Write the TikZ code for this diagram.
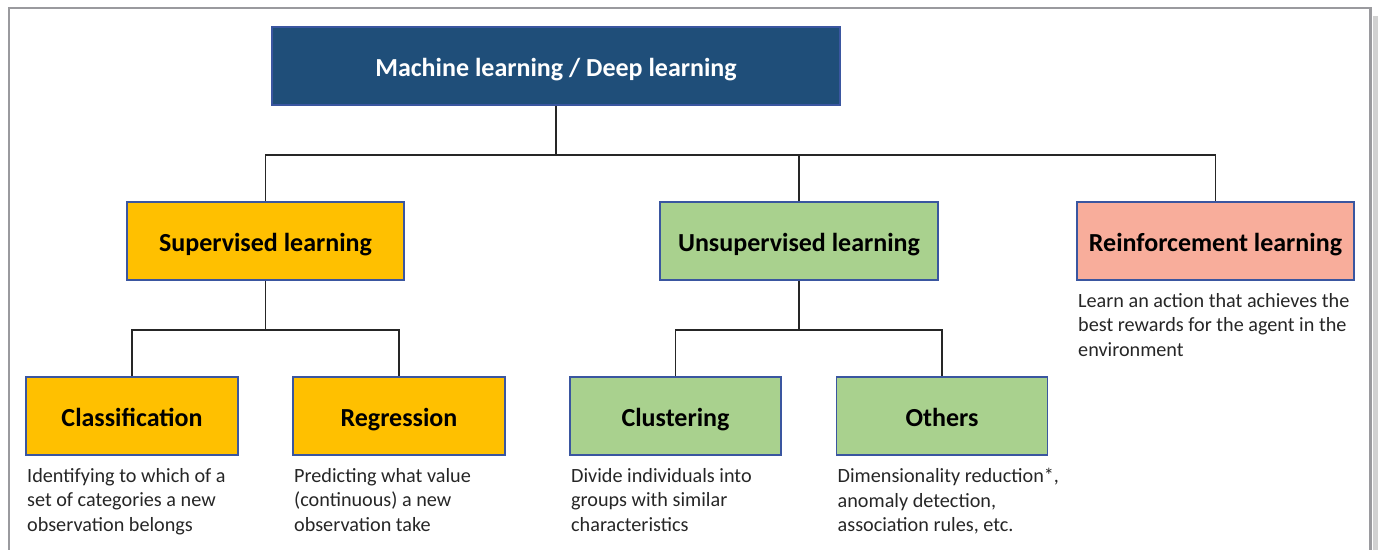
\documentclass[tikz,border=0pt]{standalone}
\usepackage{fontspec}
\setmainfont{Carlito}
\usepackage{xcolor}
\usetikzlibrary{positioning}
\definecolor{mlblue}{HTML}{1F4E79}
\definecolor{supyel}{HTML}{FFC000}
\definecolor{unsgrn}{HTML}{A9D18E}
\definecolor{rlpink}{HTML}{F8AD9B}
\definecolor{edgec}{HTML}{3A56A0}
\definecolor{framec}{HTML}{9A9A9E}
\tikzset{
  box/.style={draw=edgec,line width=0.8pt,inner sep=0pt,minimum height=1.56cm,
    font=\fontsize{14.8}{17}\selectfont\bfseries,align=center,
    text height=2.5ex,text depth=0ex},
  mlbox/.style={box,fill=mlblue,text=white,minimum width=11.36cm},
  supbox/.style={box,fill=supyel,minimum width=5.54cm},
  unsbox/.style={box,fill=unsgrn,minimum width=5.56cm},
  rlbox/.style={box,fill=rlpink,minimum width=5.54cm},
  leafs/.style={box,fill=supyel,minimum width=4.24cm},
  leafu/.style={box,fill=unsgrn,minimum width=4.22cm},
  desc/.style={font=\fontsize{11.5}{14.1}\selectfont,align=left,inner sep=0pt,
    text=black!85},
  tree/.style={draw=black!85,line width=1.1pt},
}
\begin{document}
\begin{tikzpicture}[x=0.02cm,y=-0.02cm]
  \useasboundingbox (0,0) rectangle (1378,550);
  % outer frame, open at the bottom
  \fill[black!18] (1373,16) rectangle (1378,550);
  \draw[framec,line width=1.7pt] (9,550) -- (9,8) -- (1370,8) -- (1370,550);

  \coordinate (bus) at (0,155);
  \coordinate (bussup) at (0,330);

  % boxes
  \node[mlbox](ml) at (556,66){Machine learning / Deep learning};
  \node[supbox](sup) at (265.5,241){Supervised learning};
  \node[unsbox](uns) at (799,241){Unsupervised learning};
  \node[rlbox](rl) at (1215.5,241){Reinforcement learning};
  \node[leafs](cls) at (132,416){Classification};
  \node[leafs](reg) at (399,416){Regression};
  \node[leafu](clu) at (675.5,416){Clustering};
  \node[leafu](oth) at (942,416){Others};

  % connectors
  \draw[tree] (ml.south) -- (ml.south |- bus);
  \draw[tree] (sup.north) |- (rl.north |- bus) -- (rl.north);
  \draw[tree] (uns.north) -- (uns.north |- bus);
  \draw[tree] (sup.south) -- (sup.south |- bussup);
  \draw[tree] (cls.north) |- (reg.north |- bussup) -- (reg.north);
  \draw[tree] (uns.south) -- (uns.south |- bussup);
  \draw[tree] (clu.north) |- (oth.north |- bussup) -- (oth.north);

  % descriptions
  \node[desc,below right=2.4mm and 0.3mm of cls.south west]
    {Identifying to which of a\\set of categories a new\\observation belongs};
  \node[desc,below right=2.4mm and 0.3mm of reg.south west]
    {Predicting what value\\(continuous) a new\\observation take};
  \node[desc,below right=2.4mm and 0.3mm of clu.south west]
    {Divide individuals into\\groups with similar\\characteristics};
  \node[desc,below right=2.4mm and 0.3mm of oth.south west]
    {Dimensionality reduction*,\\anomaly detection,\\association rules, etc.};
  \node[desc,below right=2.4mm and 0.3mm of rl.south west]
    {Learn an action that achieves the\\best rewards for the agent in the\\environment};
\end{tikzpicture}
\end{document}
